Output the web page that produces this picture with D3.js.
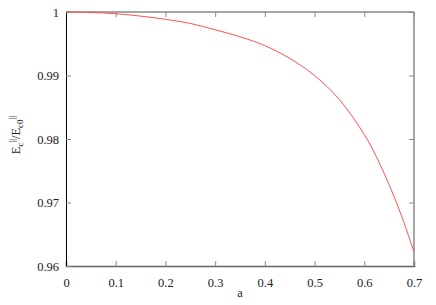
<!DOCTYPE html>
<html>
<head>
<meta charset="UTF-8">
<script src="https://d3js.org/d3.v7.min.js"></script>
<style>
  body { margin: 0; padding: 0; background: #fff; }
</style>
</head>
<body>
<div id="chart"></div>
<script>
// values
const aValues = [0, 0.05, 0.1, 0.15, 0.2, 0.25, 0.3, 0.35, 0.4, 0.45, 0.5, 0.55, 0.6, 0.625, 0.65, 0.675, 0.7];
const ratioValues = [1.0, 0.99993, 0.99973, 0.99935, 0.99885, 0.9982, 0.9972, 0.9961, 0.9947, 0.9927, 0.99, 0.9862, 0.9807, 0.9771, 0.9728, 0.9679, 0.9622];
const xTicks = [0, 0.1, 0.2, 0.3, 0.4, 0.5, 0.6, 0.7];
const yTicks = [0.96, 0.97, 0.98, 0.99, 1];

const FONT = "'Liberation Serif', 'Times New Roman', serif";
const W = 436, H = 305;
const margin = { top: 12, right: 22, bottom: 39, left: 66 };
const width = W - margin.left - margin.right,
      height = H - margin.top - margin.bottom;

const svg = d3.select("#chart").append("svg")
    .attr("width", W)
    .attr("height", H)
    .style("font-family", FONT);

const g = svg.append("g")
    .attr("transform", `translate(${margin.left},${margin.top})`);

const x = d3.scaleLinear().domain([0, 0.7]).range([0, width]);
const y = d3.scaleLinear().domain([0.96, 1]).range([height, 0]);

const fmt = d => d === 0 ? "0" : d === 1 ? "1" : d3.format(".2~f")(d);

// frame: top and right in gray
g.append("line").attr("x1", 0).attr("x2", width).attr("y1", 0).attr("y2", 0)
    .attr("stroke", "#888").attr("stroke-width", 1.5);
g.append("line").attr("x1", width).attr("x2", width).attr("y1", 0).attr("y2", height)
    .attr("stroke", "#888").attr("stroke-width", 1.5);

// mirror ticks on top and right
g.append("g").call(d3.axisTop(x).tickValues(xTicks).tickSize(-5).tickFormat(""))
    .call(s => s.select(".domain").remove())
    .selectAll("line").attr("stroke", "#888");
g.append("g").attr("transform", `translate(${width},0)`)
    .call(d3.axisRight(y).tickValues(yTicks).tickSize(-5).tickFormat(""))
    .call(s => s.select(".domain").remove())
    .selectAll("line").attr("stroke", "#888");

// bottom axis
const xAxis = g.append("g")
    .attr("transform", `translate(0,${height})`)
    .call(d3.axisBottom(x).tickValues(xTicks).tickSize(-5).tickPadding(12).tickFormat(fmt));
xAxis.attr("font-family", FONT);
xAxis.select(".domain").attr("stroke", "#666").attr("stroke-width", 1.5);
xAxis.selectAll(".tick line").attr("stroke", "#888");
xAxis.selectAll("text").style("font-family", FONT).style("font-size", "12.5px").attr("fill", "#222");

// left axis
const yAxis = g.append("g")
    .call(d3.axisLeft(y).tickValues(yTicks).tickSize(-5).tickPadding(7).tickFormat(fmt));
yAxis.attr("font-family", FONT);
yAxis.select(".domain").attr("stroke", "#000").attr("stroke-width", 1);
yAxis.selectAll(".tick line").attr("stroke", "#888");
yAxis.selectAll("text").style("font-family", FONT).style("font-size", "12.5px").attr("fill", "#222");

// curve
const pts = aValues.map((a, i) => [a, ratioValues[i]]);
g.append("path")
    .datum(pts)
    .attr("fill", "none")
    .attr("stroke", "#ff5050")
    .attr("stroke-width", 1)
    .attr("d", d3.line().x(d => x(d[0])).y(d => y(d[1])).curve(d3.curveCatmullRom.alpha(0.5)));

// x label
svg.append("text")
    .attr("x", margin.left + width / 2)
    .attr("y", 297)
    .attr("text-anchor", "middle")
    .style("font-family", FONT)
    .style("font-size", "12.5px")
    .attr("fill", "#222")
    .text("a");

// y label: E_c^||/E_c0^||
const yl = svg.append("text")
    .attr("transform", `translate(20,${margin.top + height / 2 - 4}) rotate(-90)`)
    .attr("text-anchor", "middle")
    .style("font-family", FONT)
    .style("font-size", "12.5px")
    .attr("fill", "#222");
yl.append("tspan").text("E");
yl.append("tspan").attr("dy", 3).style("font-size", "9px").text("c");
yl.append("tspan").attr("dy", -8).style("font-size", "9px").text("||");
yl.append("tspan").attr("dy", 5).text("/E");
yl.append("tspan").attr("dy", 3).style("font-size", "9px").text("c0");
yl.append("tspan").attr("dy", -8).style("font-size", "9px").text("||");
</script>
</body>
</html>
